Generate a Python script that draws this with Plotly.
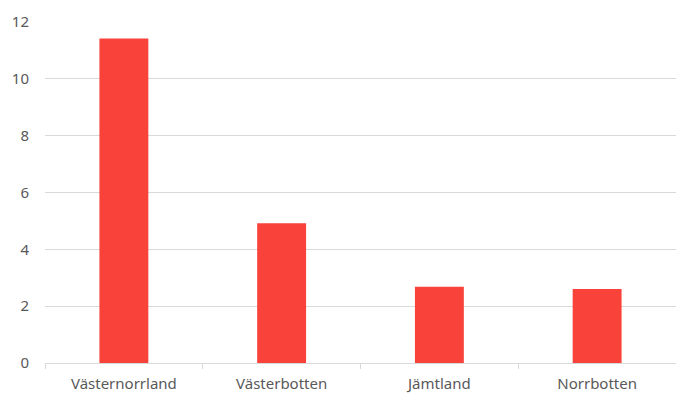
import plotly.graph_objects as go

categories = ["Västernorrland", "Västerbotten", "Jämtland", "Norrbotten"]
values = [11.42, 4.92, 2.68, 2.6]
y_ticks = [0, 2, 4, 6, 8, 10, 12]

fig = go.Figure(go.Bar(
    x=categories, y=values,
    marker=dict(color="#F8423A", line=dict(width=0)),
))

fig.update_layout(
    width=676, height=394,
    margin=dict(l=45, r=0, t=22, b=31),
    paper_bgcolor="white", plot_bgcolor="white",
    bargap=0.69,
    showlegend=False,
    font=dict(family="Noto Sans, Arial, sans-serif", size=15, color="#595959"),
)
fig.update_yaxes(
    range=[0, 12], tickvals=y_ticks, showgrid=True, gridcolor="#D9D9D9", gridwidth=1,
    zeroline=False, showline=False, ticks="", ticklabelstandoff=15,
    tickfont=dict(size=15, color="#595959"),
)
fig.update_xaxes(
    showline=True, linecolor="#D9D9D9", linewidth=1,
    ticks="outside", tickson="boundaries", ticklen=5, tickcolor="#D9D9D9",
    ticklabelstandoff=7,
    showgrid=False, tickfont=dict(size=15, color="#595959"),
)

fig.write_html("out.html")
